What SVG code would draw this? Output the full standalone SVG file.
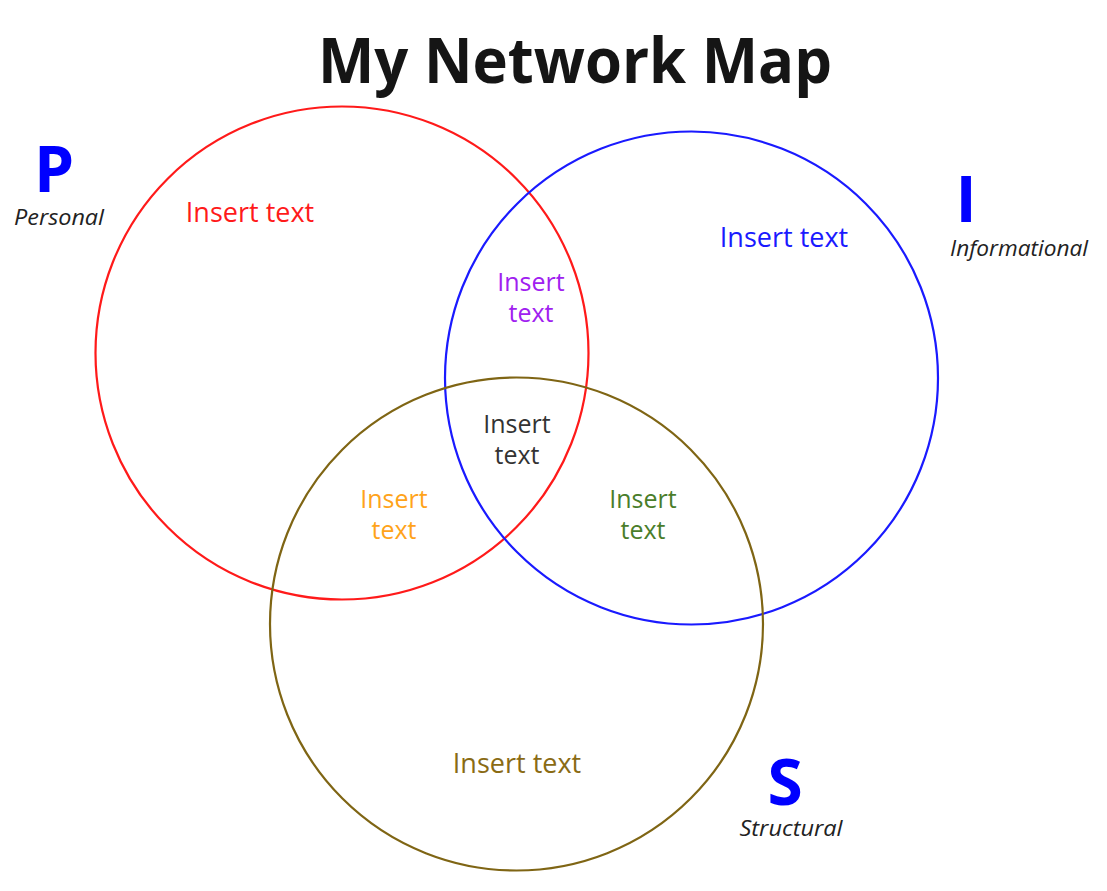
<svg xmlns="http://www.w3.org/2000/svg" width="1107" height="891" viewBox="0 0 1107 891">
<style>
.c{fill:none;stroke-width:2.2}
.t{font-family:"Open Sans","Noto Sans","Liberation Sans",sans-serif;font-size:27px;text-anchor:middle}
.m{font-family:"Open Sans","Noto Sans","Liberation Sans",sans-serif;font-size:25px;text-anchor:middle}
.L{font-family:"Open Sans","Noto Sans","Liberation Sans",sans-serif;font-weight:bold;fill:#0000ff;text-anchor:middle}
.s{font-family:"Open Sans","Noto Sans","Liberation Sans",sans-serif;font-style:italic;font-size:21px;fill:#222;text-anchor:middle}
</style>
<rect width="1107" height="891" fill="#fff"/>
<text id="title" x="575" y="83" font-family="'Open Sans','Noto Sans','Liberation Sans',sans-serif" font-weight="bold" font-size="62" fill="#151515" text-anchor="middle" textLength="514" lengthAdjust="spacingAndGlyphs">My Network Map</text>
<g id="personal">
<circle class="c" cx="342" cy="353" r="246.5" stroke="#ff1a1a"/>
<text class="L" x="54" y="192" font-size="64">P</text>
<text class="s" x="59" y="225" textLength="90" lengthAdjust="spacingAndGlyphs">Personal</text>
<text class="t" x="250" y="222" fill="#ff1a1a">Insert text</text>
</g>
<g id="informational">
<circle class="c" cx="691.5" cy="378" r="246.5" stroke="#1a1aff"/>
<text class="L" x="966" y="222" font-size="64">I</text>
<text class="s" x="1019" y="256" textLength="138" lengthAdjust="spacingAndGlyphs">Informational</text>
<text class="t" x="784" y="247" fill="#1a1aff">Insert text</text>
</g>
<g id="structural">
<circle class="c" cx="516.5" cy="624" r="246.5" stroke="#7f6514"/>
<text class="L" x="785" y="805" font-size="64">S</text>
<text class="s" x="791" y="836" textLength="103" lengthAdjust="spacingAndGlyphs">Structural</text>
<text class="t" x="517" y="773" fill="#8a6b14">Insert text</text>
</g>
<g id="overlap-pi">
<text class="m" fill="#a020f0"><tspan x="531" y="291">Insert</tspan><tspan x="531" y="322">text</tspan></text>
</g>
<g id="overlap-ps">
<text class="m" fill="#ffa31a"><tspan x="394" y="508">Insert</tspan><tspan x="394" y="539">text</tspan></text>
</g>
<g id="overlap-is">
<text class="m" fill="#4a7d2a"><tspan x="643" y="508">Insert</tspan><tspan x="643" y="539">text</tspan></text>
</g>
<g id="overlap-pis">
<text class="m" fill="#333"><tspan x="517" y="433">Insert</tspan><tspan x="517" y="464">text</tspan></text>
</g>
<g id="connectors"/>
</svg>
